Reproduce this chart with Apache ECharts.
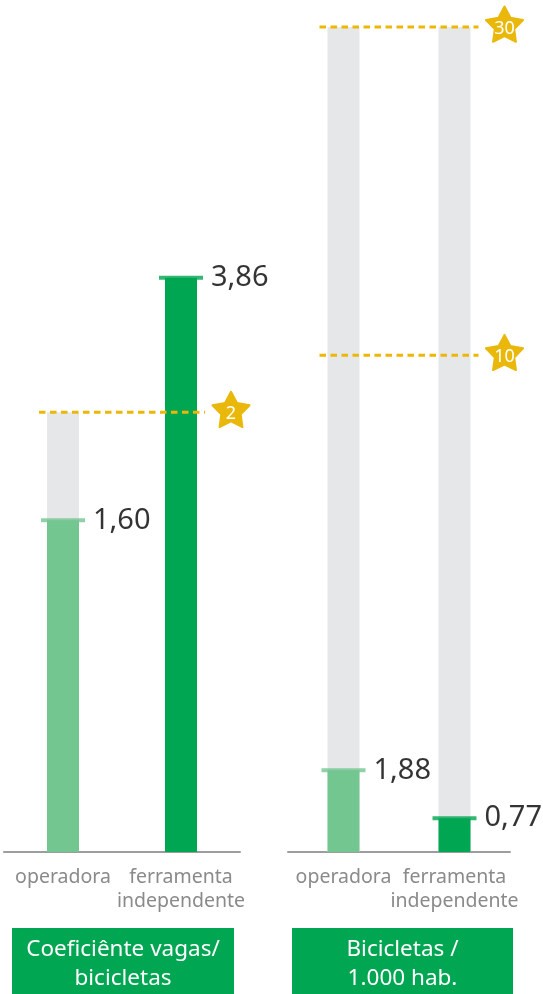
<!DOCTYPE html>
<html>
<head>
<meta charset="utf-8">
<script src="https://cdn.jsdelivr.net/npm/echarts@6/dist/echarts.min.js"></script>
<style>
html,body{margin:0;padding:0;background:#fff;}
#chart{width:543px;height:994px;}
</style>
</head>
<body>
<div id="chart"></div>
<script>
// ---- data ----
const categories = ['operadora', 'ferramenta\nindependente'];
const panelTitles = ['Coeficiênte vagas/\nbicicletas', 'Bicicletas /\n1.000 hab.'];

// values printed next to the bars
const coefValues = [1.60, 3.86];
const bikeValues = [1.88, 0.77];

// bar heights as drawn in the (not-to-scale) reference, in % of the plot height
const coefHeights = [40.2, 69.6];
const bikeHeights = [9.9, 4.1];

// targets (star label) and their drawn heights
const coefTargetLabels = [2];
const coefTargetHeights = [53.3];
const bikeTargetLabels = [10, 30];
const bikeTargetHeights = [60.2, 100];

// grey "room to target" bars behind the coloured ones
const coefBackground = [53.3, null];
const bikeBackground = [100, 100];

// ---- styling ----
const FONT = 'Noto Sans';
const LIGHT = '#74C691';
const DARK = '#00A651';
const GREY = '#E6E7E9';
const GOLD = '#E9B80B';
const barColors = [LIGHT, DARK];

function fmt(v) { return v.toFixed(2).replace('.', ','); }

function starPoints(cx, cy, R, r) {
  const pts = [];
  for (let i = 0; i < 10; i++) {
    const rad = i % 2 === 0 ? R : r;
    const a = -Math.PI / 2 + i * Math.PI / 5;
    pts.push([cx + rad * Math.cos(a), cy + rad * Math.sin(a)]);
  }
  return pts;
}

function renderTarget(params, api) {
  const h = api.value(1);
  const p0 = api.coord([0, h]);
  const p1 = api.coord([1, h]);
  const y = p0[1];
  const cx = p1[0] + 50, cy = y - 1;
  return {
    type: 'group',
    children: [
      { type: 'line', shape: { x1: p0[0] - 24, y1: y, x2: p1[0] + 24, y2: y },
        style: { stroke: '#EDB707', lineWidth: 3, lineDash: [6.5, 4.5] } },
      { type: 'polygon', shape: { points: starPoints(cx, cy, 19.5, 10.2) },
        style: { fill: GOLD, stroke: GOLD, lineWidth: 2, lineJoin: 'round' } },
      { type: 'text', style: { text: String(api.value(2)), x: cx, y: cy + 3,
        align: 'center', verticalAlign: 'middle', fill: '#fff',
        fontSize: 18, fontFamily: FONT } }
    ]
  };
}

function panelSeries(idx, heights, values, background, tHeights, tLabels) {
  return [
    { type: 'bar', xAxisIndex: idx, yAxisIndex: idx, data: background,
      barWidth: 32, itemStyle: { color: GREY }, silent: true, z: 1 },
    { type: 'bar', xAxisIndex: idx, yAxisIndex: idx, barGap: '-100%', barWidth: 32,
      data: heights.map((h, i) => ({ value: h, itemStyle: { color: barColors[i] } })),
      silent: true, z: 2 },
    { type: 'scatter', xAxisIndex: idx, yAxisIndex: idx, symbol: 'rect', symbolSize: [44, 4],
      data: heights.map((h, i) => ({ value: h, itemStyle: { color: barColors[i] } })),
      label: { show: true, position: 'right', distance: 8,
        formatter: p => fmt(values[p.dataIndex]),
        color: '#000', fontSize: 29, fontFamily: FONT },
      silent: true, z: 3 },
    { type: 'custom', xAxisIndex: idx, yAxisIndex: idx,
      data: tHeights.map((h, i) => [0, h, tLabels[i]]),
      renderItem: renderTarget, silent: true, z: 4 }
  ];
}

const xAxisCommon = {
  type: 'category', data: categories,
  axisTick: { show: false },
  axisLine: { lineStyle: { color: '#9D9D9D', width: 2 } },
  axisLabel: { color: '#8A8A8A', fontSize: 19.5, lineHeight: 24, margin: 13,
    interval: 0, fontFamily: FONT }
};
const yAxisCommon = { type: 'value', min: 0, max: 100, show: false };

function titleBox(x, w, text) {
  return {
    type: 'group', left: x, top: 928,
    children: [
      { type: 'rect', shape: { x: 0, y: 0, width: w, height: 66 }, style: { fill: DARK } },
      { type: 'text', x: w / 2, y: 36, style: { text: text, align: 'center', verticalAlign: 'middle',
        fill: '#fff', fontSize: 22.5, lineHeight: 29, fontFamily: FONT } }
    ]
  };
}

const chart = echarts.init(document.getElementById('chart'), null, { renderer: 'canvas' });
chart.setOption({
  animation: false,
  backgroundColor: '#fff',
  grid: [
    { left: 4, width: 236, top: 27, bottom: 142 },
    { left: 288, width: 222, top: 27, bottom: 142 }
  ],
  xAxis: [Object.assign({ gridIndex: 0 }, xAxisCommon), Object.assign({ gridIndex: 1 }, xAxisCommon)],
  yAxis: [Object.assign({ gridIndex: 0 }, yAxisCommon), Object.assign({ gridIndex: 1 }, yAxisCommon)],
  series: [].concat(
    panelSeries(0, coefHeights, coefValues, coefBackground, coefTargetHeights, coefTargetLabels),
    panelSeries(1, bikeHeights, bikeValues, bikeBackground, bikeTargetHeights, bikeTargetLabels)
  ),
  graphic: [
    titleBox(12, 222, panelTitles[0]),
    titleBox(292, 221, panelTitles[1])
  ]
});
</script>
</body>
</html>
